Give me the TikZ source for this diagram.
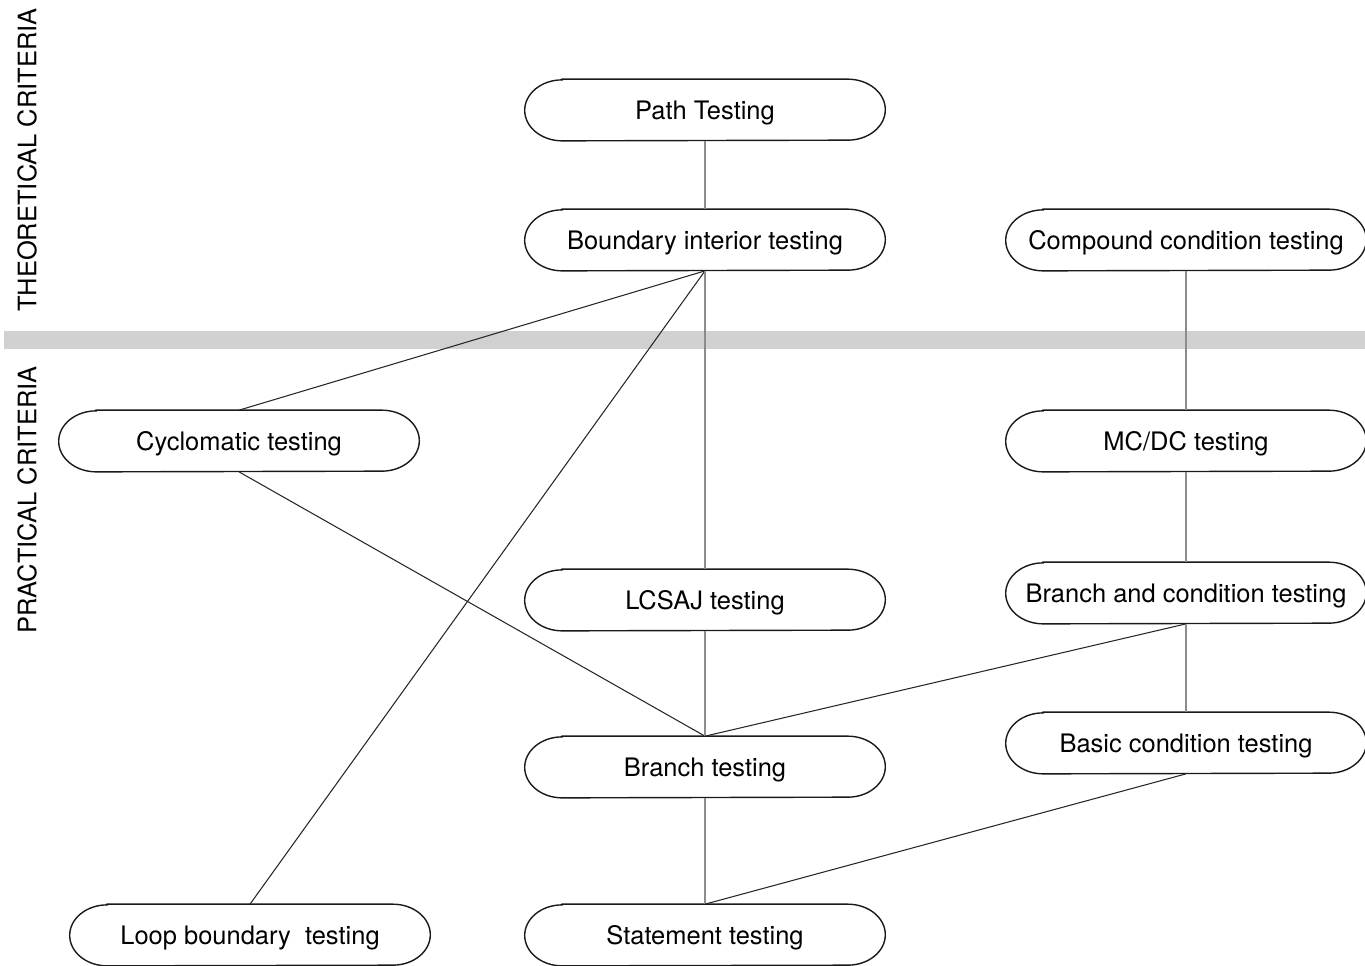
\documentclass[tikz,border=0pt]{standalone}
\usepackage{fontspec}
\setmainfont{TeX Gyre Heros}
\tikzset{
 crit/.style={rectangle,minimum width=7.2cm,minimum height=1.22cm,inner sep=0pt,text height=10.4pt,text depth=0pt,font=\fontsize{14.5}{17}\selectfont},
 rim/.style={line width=0.8pt,black!90},
 link/.style={line width=0.6pt,black!85},
 vlink/.style={line width=0.9pt,black!45},
 side/.style={rotate=90,font=\fontsize{14.5}{17}\selectfont},
}
\begin{document}
\begin{tikzpicture}[x=0.02cm,y=-0.02cm]
 \useasboundingbox (0,0) rectangle (1365,965);
 \fill[black!18] (4,331) rectangle (1365,349); %帯
 \node[side] (theo) at (27,160) {THEORETICAL CRITERIA};
 \node[side] (prac) at (27,500) {PRACTICAL CRITERIA};
 % 中央の列
 \node[crit] (path) at (705,110) {Path Testing};
 \node[crit] (bint) at (705,240) {Boundary interior testing};
 \node[crit] (lcsaj) at (705,600) {LCSAJ testing};
 \node[crit] (branch) at (705,767) {Branch testing};
 \node[crit] (stmt) at (705,935) {Statement testing};
 % 左の列
 \node[crit] (cyclo) at (239,441) {Cyclomatic testing};
 \node[crit] (loop) at (250,935) {Loop boundary\ \ testing};
 % 右の列
 \node[crit] (comp) at (1186,240) {Compound condition testing};
 \node[crit] (mcdc) at (1186,441) {MC/DC testing};
 \node[crit] (bcond) at (1186,593) {Branch and condition testing};
 \node[crit] (basic) at (1186,743) {Basic condition testing};
 % 枠
 \foreach \n in {path,bint,lcsaj,branch,stmt,cyclo,loop,comp,mcdc,bcond,basic}
  \draw[rim] ([xshift=0.75cm]\n.north west)--([xshift=-0.75cm]\n.north east)
   arc[start angle=90,end angle=-90,x radius=0.75cm,y radius=0.61cm]
   --([xshift=0.75cm]\n.south west)
   arc[start angle=270,end angle=90,x radius=0.75cm,y radius=0.61cm]--cycle;
 % 線
 \draw[vlink] (path.south)--(bint.north);
 \draw[link] (bint.south)--(cyclo.north);
 \draw[link] (bint.south)--(loop.north);
 \draw[vlink] (bint.south)--(lcsaj.north);
 \draw[link] (cyclo.south)--(branch.north);
 \draw[vlink] (lcsaj.south)--(branch.north);
 \draw[link] (bcond.south)--(branch.north);
 \draw[vlink] (branch.south)--(stmt.north);
 \draw[link] (basic.south)--(stmt.north);
 \draw[vlink] (comp.south)--(mcdc.north);
 \draw[vlink] (mcdc.south)--(bcond.north);
 \draw[vlink] (bcond.south)--(basic.north);
\end{tikzpicture}
\end{document}
